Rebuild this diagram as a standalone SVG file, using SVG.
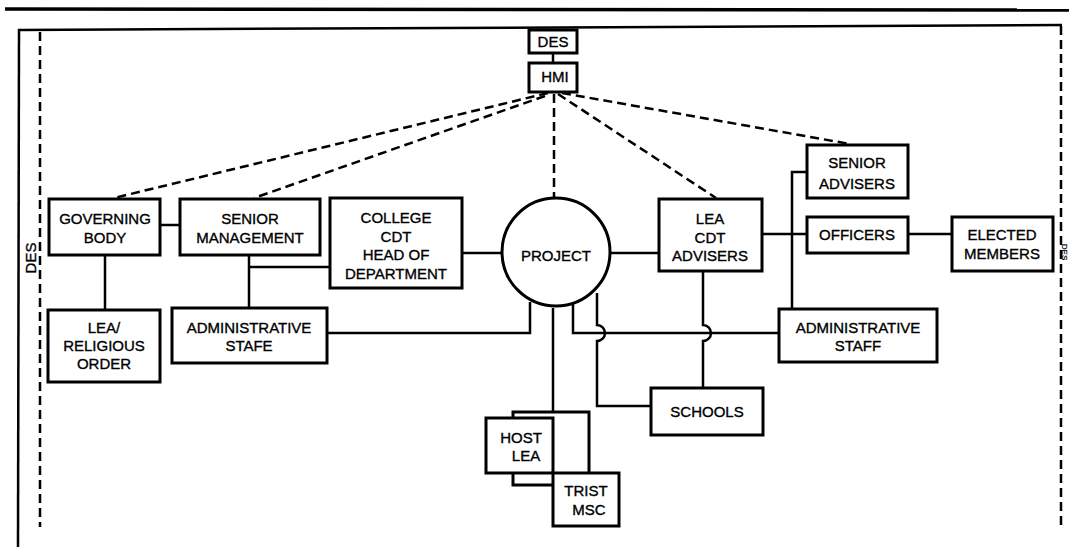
<svg xmlns="http://www.w3.org/2000/svg" width="1069" height="547" viewBox="0 0 1069 547">
<style>
.box{fill:#fff;stroke:#000;stroke-width:3}
.ln{fill:none;stroke:#000;stroke-width:2.5}
.dash{fill:none;stroke:#000;stroke-width:2.5;stroke-dasharray:9 5}
text{font-family:"Liberation Sans",Arial,sans-serif;font-size:15px;fill:#000;text-anchor:middle;stroke:#000;stroke-width:0.35}
</style>
<rect width="1069" height="547" fill="#fff"/>
<g id="frame">
<line x1="5" y1="9" x2="1069" y2="10" stroke="#000" stroke-width="3.5"/>
<line x1="18" y1="30" x2="1062" y2="25" stroke="#000" stroke-width="2.5"/>
<line x1="19" y1="29" x2="18" y2="547" stroke="#000" stroke-width="2.5"/>
<line x1="40" y1="32" x2="40" y2="527" class="dash"/>
<line x1="1061" y1="26" x2="1061" y2="527" class="dash"/>
<text x="0" y="0" transform="translate(36,258) rotate(-90)">DES</text>
<text x="0" y="0" transform="translate(1062,252) rotate(90)" style="font-size:8px;stroke-width:0.2">DES</text>
</g>
<g id="connectors">
<line x1="553" y1="53" x2="553" y2="63" class="ln"/>
<path class="dash" d="M548,93 L114,198"/>
<path class="dash" d="M545,96 L254,198"/>
<path class="dash" d="M554,94 L554,197"/>
<path class="dash" d="M558,94 L716,198"/>
<path class="dash" d="M562,93 L850,144"/>
<path class="ln" d="M160,225 H180"/>
<path class="ln" d="M105,255 V310"/>
<path class="ln" d="M249,255 V308"/>
<path class="ln" d="M249,267 H330"/>
<path class="ln" d="M462,253 H502"/>
<path class="ln" d="M610,253 H659"/>
<path class="ln" d="M327,333 H530 V302"/>
<path class="ln" d="M553,308 V412"/>
<path class="ln" d="M573,304 V333 H779"/>
<path class="ln" d="M597,293 V325 A8,8 0 0 1 597,341 V406 H651"/>
<path class="ln" d="M703,272 V325 A8,8 0 0 1 703,341 V388"/>
<path class="ln" d="M762,234 H807"/>
<path class="ln" d="M908,234 H952"/>
<path class="ln" d="M807,172 H792 V309"/>
</g>
<g id="des"><rect class="box" x="529" y="30" width="48" height="23"/><text x="553" y="47">DES</text></g>
<g id="hmi"><rect class="box" x="529" y="63" width="48" height="29"/><text x="555" y="82">HMI</text></g>
<g id="governing-body"><rect class="box" x="49" y="199" width="111" height="56"/><text x="105" y="224">GOVERNING</text><text x="105" y="243">BODY</text></g>
<g id="senior-management"><rect class="box" x="180" y="199" width="140" height="56"/><text x="250" y="224">SENIOR</text><text x="250" y="243">MANAGEMENT</text></g>
<g id="college-cdt"><rect class="box" x="330" y="198" width="132" height="90"/><text x="396" y="223">COLLEGE</text><text x="396" y="242">CDT</text><text x="396" y="260">HEAD OF</text><text x="396" y="279">DEPARTMENT</text></g>
<g id="project"><circle class="box" cx="556" cy="252" r="54"/><text x="556" y="261">PROJECT</text></g>
<g id="lea-cdt-advisers"><rect class="box" x="659" y="199" width="103" height="72"/><text x="710" y="224">LEA</text><text x="710" y="243">CDT</text><text x="710" y="261">ADVISERS</text></g>
<g id="senior-advisers"><rect class="box" x="807" y="145" width="101" height="53"/><text x="857" y="168">SENIOR</text><text x="857" y="189">ADVISERS</text></g>
<g id="officers"><rect class="box" x="807" y="217" width="101" height="36"/><text x="857" y="240">OFFICERS</text></g>
<g id="elected-members"><rect class="box" x="952" y="217" width="101" height="54"/><text x="1002" y="240">ELECTED</text><text x="1002" y="259">MEMBERS</text></g>
<g id="lea-religious-order"><rect class="box" x="48" y="310" width="112" height="72"/><text x="104" y="333">LEA/</text><text x="104" y="351">RELIGIOUS</text><text x="104" y="369">ORDER</text></g>
<g id="administrative-stafe"><rect class="box" x="172" y="308" width="155" height="55"/><text x="249" y="333">ADMINISTRATIVE</text><text x="249" y="351">STAFE</text></g>
<g id="administrative-staff"><rect class="box" x="779" y="309" width="158" height="53"/><text x="858" y="333">ADMINISTRATIVE</text><text x="858" y="351">STAFF</text></g>
<g id="schools"><rect class="box" x="651" y="388" width="112" height="47"/><text x="707" y="417">SCHOOLS</text></g>
<g id="host-lea-group">
<rect class="box" x="513" y="412" width="76" height="73"/>
<g id="host-lea"><rect class="box" x="486" y="418" width="67" height="55"/><text x="521" y="443">HOST</text><text x="526" y="461">LEA</text></g>
<g id="trist-msc"><rect class="box" x="553" y="473" width="66" height="53"/><text x="586" y="496">TRIST</text><text x="589" y="515">MSC</text></g>
</g>
</svg>
